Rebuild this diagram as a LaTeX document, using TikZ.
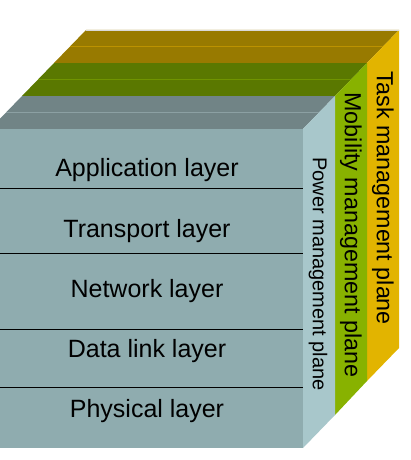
\documentclass[tikz,border=0pt]{standalone}
\usepackage{fontspec}
\setmainfont{Liberation Sans}
\definecolor{frontface}{RGB}{143,172,175}
\definecolor{powertop}{RGB}{113,132,134}
\definecolor{powerside}{RGB}{168,199,203}
\definecolor{powerline}{RGB}{140,160,163}
\definecolor{mobtop}{RGB}{90,120,0}
\definecolor{mobside}{RGB}{136,178,0}
\definecolor{mobline}{RGB}{112,148,0}
\definecolor{tasktop}{RGB}{152,122,0}
\definecolor{taskside}{RGB}{226,180,0}
\definecolor{taskline}{RGB}{188,146,0}

\tikzset{
  layertext/.style={font=\fontsize{25}{30}\selectfont},
  planetext/.style={rotate=-90,font=\fontsize{23.3}{28}\selectfont},
  divider/.style={black,line width=0.8pt}
}

\begin{document}
\begin{tikzpicture}[x=1pt,y=-1pt]
\clip (0,0) rectangle (411,460);

% task management plane
\fill[tasktop] (54,63) -- (367,63) -- (399,30) -- (86,30) -- cycle;
\fill[taskside] (367,63) -- (399,30) -- (399,348) -- (367,381) -- cycle;
\draw[taskline,line width=0.8pt] (70,46.5) -- (383,46.5);
\draw[taskline,line width=0.8pt] (54,63) -- (367,63);
\draw[black!15,line width=0.6pt] (86,30) -- (399,30);

% mobility management plane
\fill[mobtop] (22,96) -- (335,96) -- (367,63) -- (54,63) -- cycle;
\fill[mobside] (335,96) -- (367,63) -- (367,381) -- (335,415) -- cycle;
\draw[mobline,line width=0.8pt] (38,79.5) -- (351,79.5);

% power management plane
\fill[powertop] (-10,129) -- (303,129) -- (335,96) -- (22,96) -- cycle;
\fill[powerside] (303,129) -- (335,96) -- (335,415) -- (303,448) -- cycle;
\draw[powerline,line width=0.8pt] (6,112.5) -- (319,112.5);

% layers
\fill[frontface] (-10,129) rectangle (303,448);
\foreach \y in {188,253,329,387}
  \draw[divider] (-10,\y) -- (303,\y);

\node[layertext] (app) at (147,170) {Application layer};
\node[layertext] (trans) at (147,231) {Transport layer};
\node[layertext] (net) at (147,291) {Network layer};
\node[layertext] (link) at (147,351) {Data link layer};
\node[layertext] (phy) at (147,411) {Physical layer};

\node[planetext,font=\fontsize{20}{24}\selectfont] (power) at (318,274) {Power management plane};
\node[planetext] (mob) at (351,235) {Mobility management plane};
\node[planetext] (task) at (383,198) {Task management plane};
\end{tikzpicture}
\end{document}
